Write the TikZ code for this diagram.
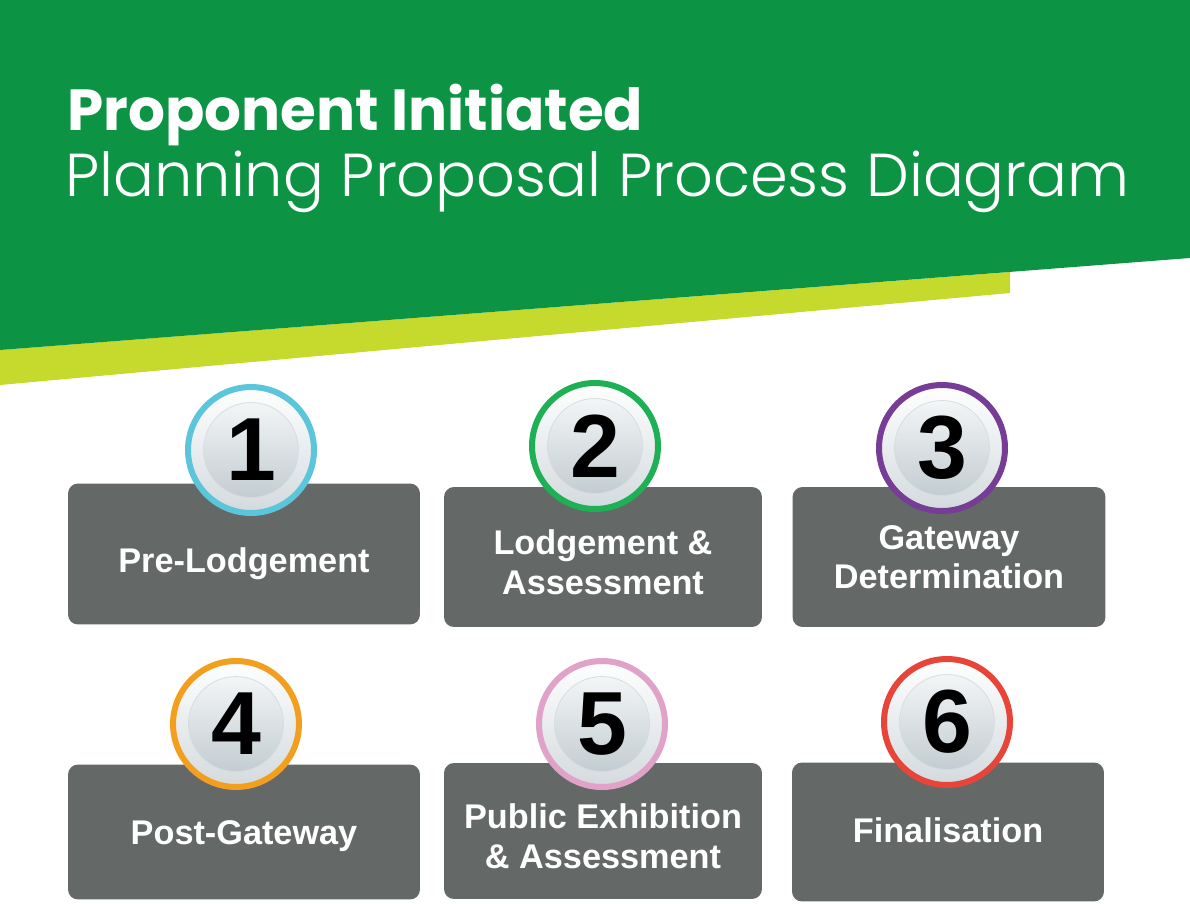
\documentclass[tikz,border=0pt]{standalone}
\usepackage{fontspec}
\setmainfont{Liberation Sans}
\newfontfamily\titlefont{Poppins}
\newfontfamily\titlelight{Poppins Light}
\usetikzlibrary{positioning}

\definecolor{bandgreen}{HTML}{0C9444}
\definecolor{bandlime}{HTML}{C6D92D}
\definecolor{boxgrey}{HTML}{646867}
\definecolor{ringgrey}{HTML}{D3DADD}
\definecolor{diskhi}{HTML}{F3F5F6}
\definecolor{disklo}{HTML}{C3CDD1}
\definecolor{ringone}{HTML}{5BC5DB}
\definecolor{ringtwo}{HTML}{1DB054}
\definecolor{ringthree}{HTML}{773D96}
\definecolor{ringfour}{HTML}{F29F1F}
\definecolor{ringfive}{HTML}{E0A2C9}
\definecolor{ringsix}{HTML}{E8453A}

\begin{document}
\begin{tikzpicture}[%
            x=0.02cm, y=-0.02cm,
            stepbox/.style={fill=boxgrey, rounded corners=0.2cm, inner sep=0pt},
            steptext/.style={text=white, align=center, inner sep=0pt,
              font=\bfseries\fontsize{19.5}{22.5}\selectfont},
            stepring/.style={circle, draw=#1, line width=0.12cm, inner sep=0pt,
              minimum size=2.52cm, top color=white, bottom color=ringgrey},
            stepdisk/.style={circle, inner sep=0pt, minimum size=1.9cm,
              top color=diskhi, bottom color=disklo, draw=disklo!70!white,
              font=\bfseries\fontsize{51}{51}\selectfont}
            ]
            \useasboundingbox (0,0) rectangle (1190,903);

            % header band
            \fill[bandlime] (0,350) -- (1010,272) -- (1010,293) -- (0,385) -- cycle;
            \fill[bandgreen] (0,0) -- (1190,0) -- (1190,258) -- (0,350) -- cycle;
            \node[anchor=base west, inner sep=0pt, text=white,
              font=\titlefont\bfseries\fontsize{33}{33}\selectfont]
              (title) at (67,130) {Proponent Initiated};
            \node[anchor=base west, inner sep=0pt, text=white,
              font=\titlelight\fontsize{34.5}{34.5}\selectfont]
              (subtitle) at (65,196) {Planning Proposal Process Diagram};

            % step boxes
            \node[stepbox, minimum width=7.04cm, minimum height=2.82cm] (prelodge) at (244,554) {};
            \node[stepbox, minimum width=6.36cm, minimum height=2.80cm] (lodge) at (603,557) {};
            \node[stepbox, minimum width=6.26cm, minimum height=2.80cm] (gateway) at (949,557) {};
            \node[stepbox, minimum width=7.04cm, minimum height=2.70cm] (postgate) at (244,832) {};
            \node[stepbox, minimum width=6.36cm, minimum height=2.72cm] (exhibit) at (603,831) {};
            \node[stepbox, minimum width=6.24cm, minimum height=2.78cm] (final) at (948,832) {};

            % step labels
            \node[steptext] (prelodgetext) at ([yshift=-0.2cm]prelodge.center) {Pre-Lodgement};
            \node[steptext] (lodgetext) at ([yshift=-0.1cm]lodge.center) {Lodgement \&\\Assessment};
            \node[steptext] (gatewaytext) at (gateway.center) {Gateway\\Determination};
            \node[steptext] (postgatetext) at ([yshift=-0.08cm]postgate.center) {Post-Gateway};
            \node[steptext] (exhibittext) at ([yshift=-0.1cm]exhibit.center) {Public Exhibition\\\& Assessment};
            \node[steptext] (finaltext) at ([yshift=0.03cm]final.center) {Finalisation};

            % numbered badges
            \node[stepring=ringone] (ring1) at (251,450) {};
            \node[stepdisk] (num1) at (ring1) {1};
            \node[stepring=ringtwo] (ring2) at (595,446) {};
            \node[stepdisk] (num2) at (ring2) {2};
            \node[stepring=ringthree] (ring3) at (942,448) {};
            \node[stepdisk] (num3) at (ring3) {3};
            \node[stepring=ringfour] (ring4) at (236,724) {};
            \node[stepdisk] (num4) at (ring4) {4};
            \node[stepring=ringfive] (ring5) at (602,724) {};
            \node[stepdisk] (num5) at (ring5) {5};
            \node[stepring=ringsix] (ring6) at (947,722) {};
            \node[stepdisk] (num6) at (ring6) {6};
        \end{tikzpicture}
\end{document}
